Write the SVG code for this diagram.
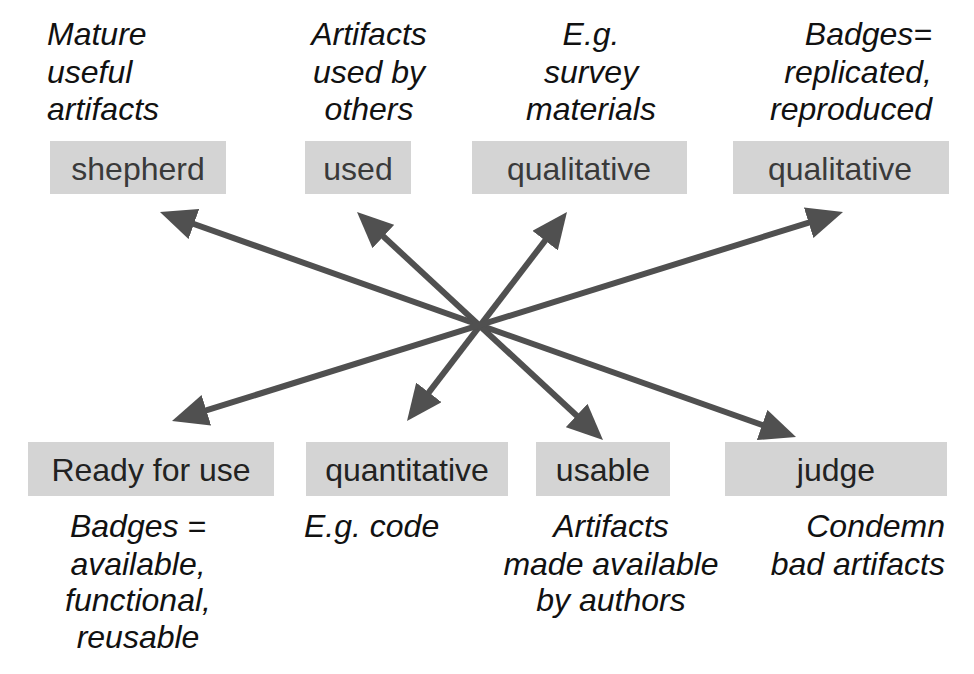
<svg xmlns="http://www.w3.org/2000/svg" width="974" height="674" viewBox="0 0 974 674">
<style>
.box{fill:#d4d4d4}
.bt{font-family:"Liberation Sans",Arial,sans-serif;font-size:32px;fill:#3a3a3a;text-anchor:middle}
.bb{fill:#222}
.lbl{font-family:"Liberation Sans",Arial,sans-serif;font-size:32px;font-style:italic;fill:#111}
.c{text-anchor:middle}
.r{text-anchor:end}
.conn line{stroke:#505050;stroke-width:6;marker-start:url(#ah);marker-end:url(#ah)}
</style>
<defs>
<marker id="ah" markerUnits="userSpaceOnUse" markerWidth="38" markerHeight="32" refX="12" refY="16" orient="auto-start-reverse">
<path d="M0,0 L36,16 L0,32 z" fill="#505050"/>
</marker>
</defs>
<rect width="974" height="674" fill="#fff"/>
<g id="lbl-shepherd"><text class="lbl" x="47" y="45">Mature</text><text class="lbl" x="47" y="83">useful</text><text class="lbl" x="47" y="120">artifacts</text></g>
<g id="lbl-used"><text class="lbl c" x="369" y="45">Artifacts</text><text class="lbl c" x="369" y="83">used by</text><text class="lbl c" x="369" y="120">others</text></g>
<g id="lbl-qual1"><text class="lbl c" x="591" y="45">E.g.</text><text class="lbl c" x="591" y="83">survey</text><text class="lbl c" x="591" y="120">materials</text></g>
<g id="lbl-qual2"><text class="lbl r" x="932" y="45">Badges=</text><text class="lbl r" x="932" y="83">replicated,</text><text class="lbl r" x="932" y="120">reproduced</text></g>
<g id="shepherd"><rect class="box" x="50" y="141" width="176" height="53"/><text class="bt" x="138" y="180">shepherd</text></g>
<g id="used"><rect class="box" x="305" y="141" width="106" height="53"/><text class="bt" x="358" y="180">used</text></g>
<g id="qualitative1"><rect class="box" x="472" y="141" width="215" height="53"/><text class="bt" x="579" y="180">qualitative</text></g>
<g id="qualitative2"><rect class="box" x="733" y="141" width="216" height="53"/><text class="bt" x="840" y="180">qualitative</text></g>
<g id="ready"><rect class="box" x="28" y="442" width="246" height="54"/><text class="bt bb" x="151" y="481">Ready for use</text></g>
<g id="quantitative"><rect class="box" x="306" y="442" width="202" height="54"/><text class="bt bb" x="407" y="481">quantitative</text></g>
<g id="usable"><rect class="box" x="536" y="442" width="134" height="54"/><text class="bt bb" x="603" y="481">usable</text></g>
<g id="judge"><rect class="box" x="725" y="442" width="222" height="54"/><text class="bt bb" x="836" y="481">judge</text></g>
<g id="lbl-ready"><text class="lbl c" x="138" y="537">Badges =</text><text class="lbl c" x="138" y="575">available,</text><text class="lbl c" x="138" y="611">functional,</text><text class="lbl c" x="138" y="648">reusable</text></g>
<g id="lbl-quant"><text class="lbl" x="304" y="537">E.g. code</text></g>
<g id="lbl-usable"><text class="lbl c" x="611" y="537">Artifacts</text><text class="lbl c" x="611" y="575">made available</text><text class="lbl c" x="611" y="611">by authors</text></g>
<g id="lbl-judge"><text class="lbl r" x="945" y="537">Condemn</text><text class="lbl r" x="945" y="575">bad artifacts</text></g>
<g id="connectors" class="conn">
<line x1="182.6" y1="220.0" x2="773.4" y2="429.0"/>
<line x1="374.6" y1="228.3" x2="585.4" y2="423.7"/>
<line x1="552.4" y1="231.1" x2="421.6" y2="401.9"/>
<line x1="820.1" y1="219.1" x2="194.9" y2="413.9"/>
</g>
</svg>
